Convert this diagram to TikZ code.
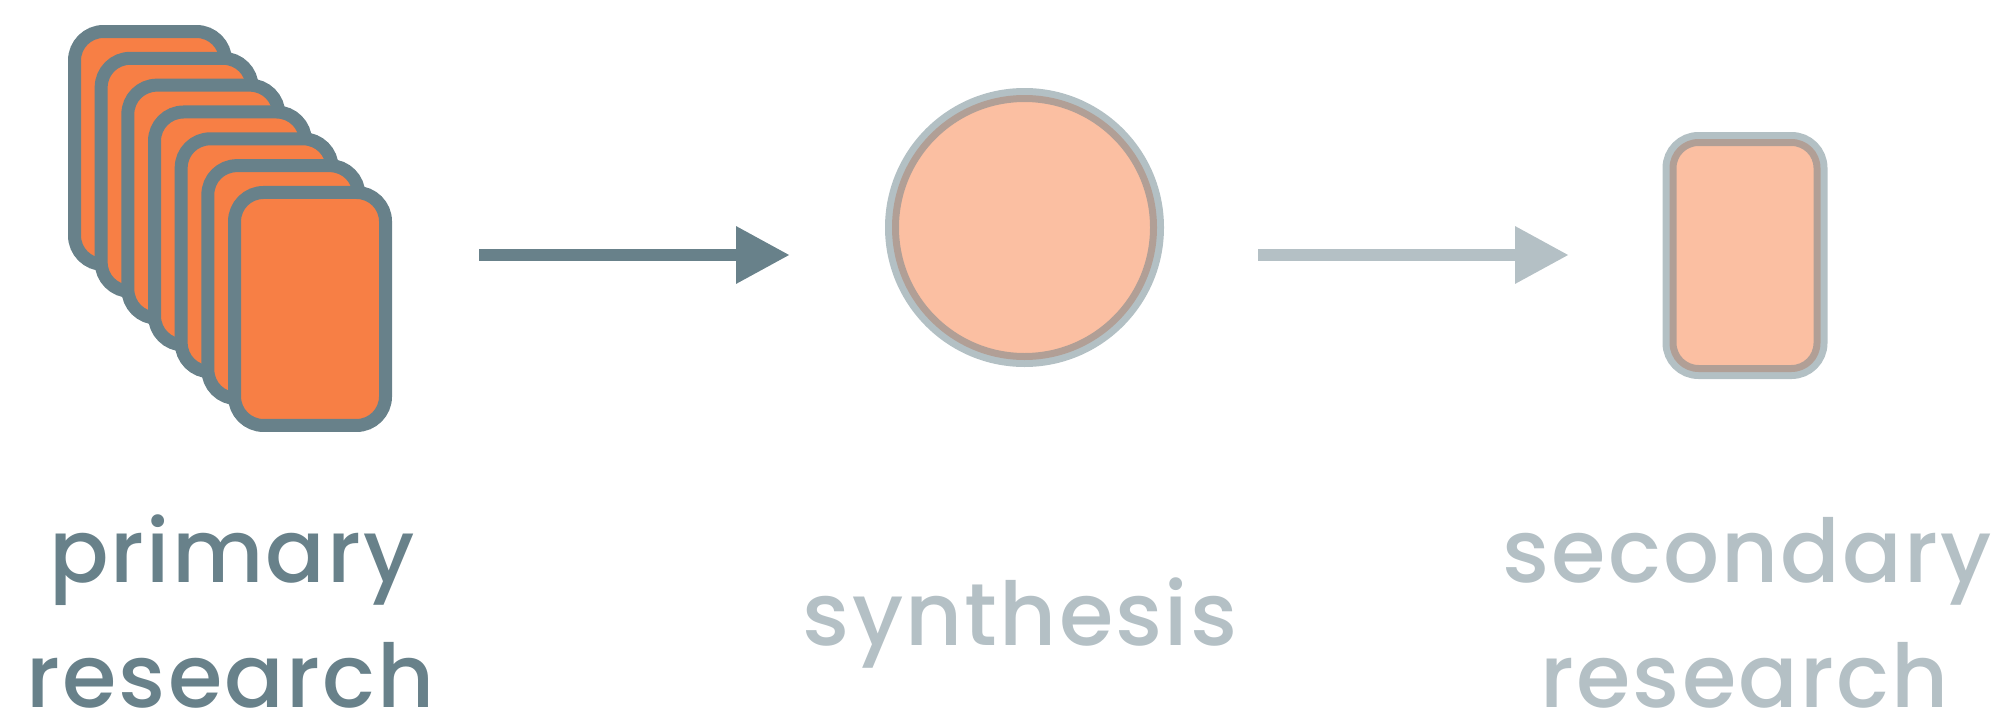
\documentclass[tikz,border=0pt]{standalone}
\usepackage{fontspec}
\usetikzlibrary{arrows.meta}
\newfontfamily\labfont{Poppins Medium}[LetterSpace=2.5]
\definecolor{slate}{HTML}{68818A}
\definecolor{tang}{HTML}{F77F45}
\tikzset{
  card/.style={draw=slate, fill=tang, line width=13pt, rounded corners=29pt,
    minimum width=151pt, minimum height=233pt, inner sep=0pt},
  faded/.style={draw opacity=0.5, fill opacity=0.5},
  flow/.style={line width=12.7pt, -{Triangle[length=54pt,width=54pt]}},
  lab/.style={font=\labfont\fontsize{88}{100}\selectfont, anchor=base, inner sep=0pt}
}
\begin{document}
\begin{tikzpicture}[x=1pt,y=-1pt]
\useasboundingbox (0,0) rectangle (1997,712);
% stack of primary research cards
\foreach \i in {0,...,6}{
  \node[card] (c\i) at ({150+26.67*\i},{148+26.83*\i}) {};
}
% synthesis circle
\node[circle, draw=slate, fill=tang, faded, line width=14pt, minimum size=265pt, inner sep=0pt] (syn) at (1024.5,227.5) {};
% secondary research card
\node[card, faded, line width=14pt] (sec) at (1745,255.5) {};
% arrows
\coordinate (a1s) at (479,255);
\coordinate (a1e) at (790,255);
\coordinate (a2s) at (1258,255);
\coordinate (a2e) at (1569,255);
\draw[flow, slate] (a1s) -- (a1e);
\draw[flow, slate!50!white] (a2s) -- (a2e);
% labels
\node[lab, text=slate] (l1a) at (232,582) {primary};
\node[lab, text=slate] (l1b) at (230.5,707) {research};
\node[lab, text=slate!50!white] (l2) at (1020,645) {synthesis};
\node[lab, text=slate!50!white] (l3a) at (1747,582) {secondary};
\node[lab, text=slate!50!white] (l3b) at (1744.5,707) {research};
\end{tikzpicture}
\end{document}
